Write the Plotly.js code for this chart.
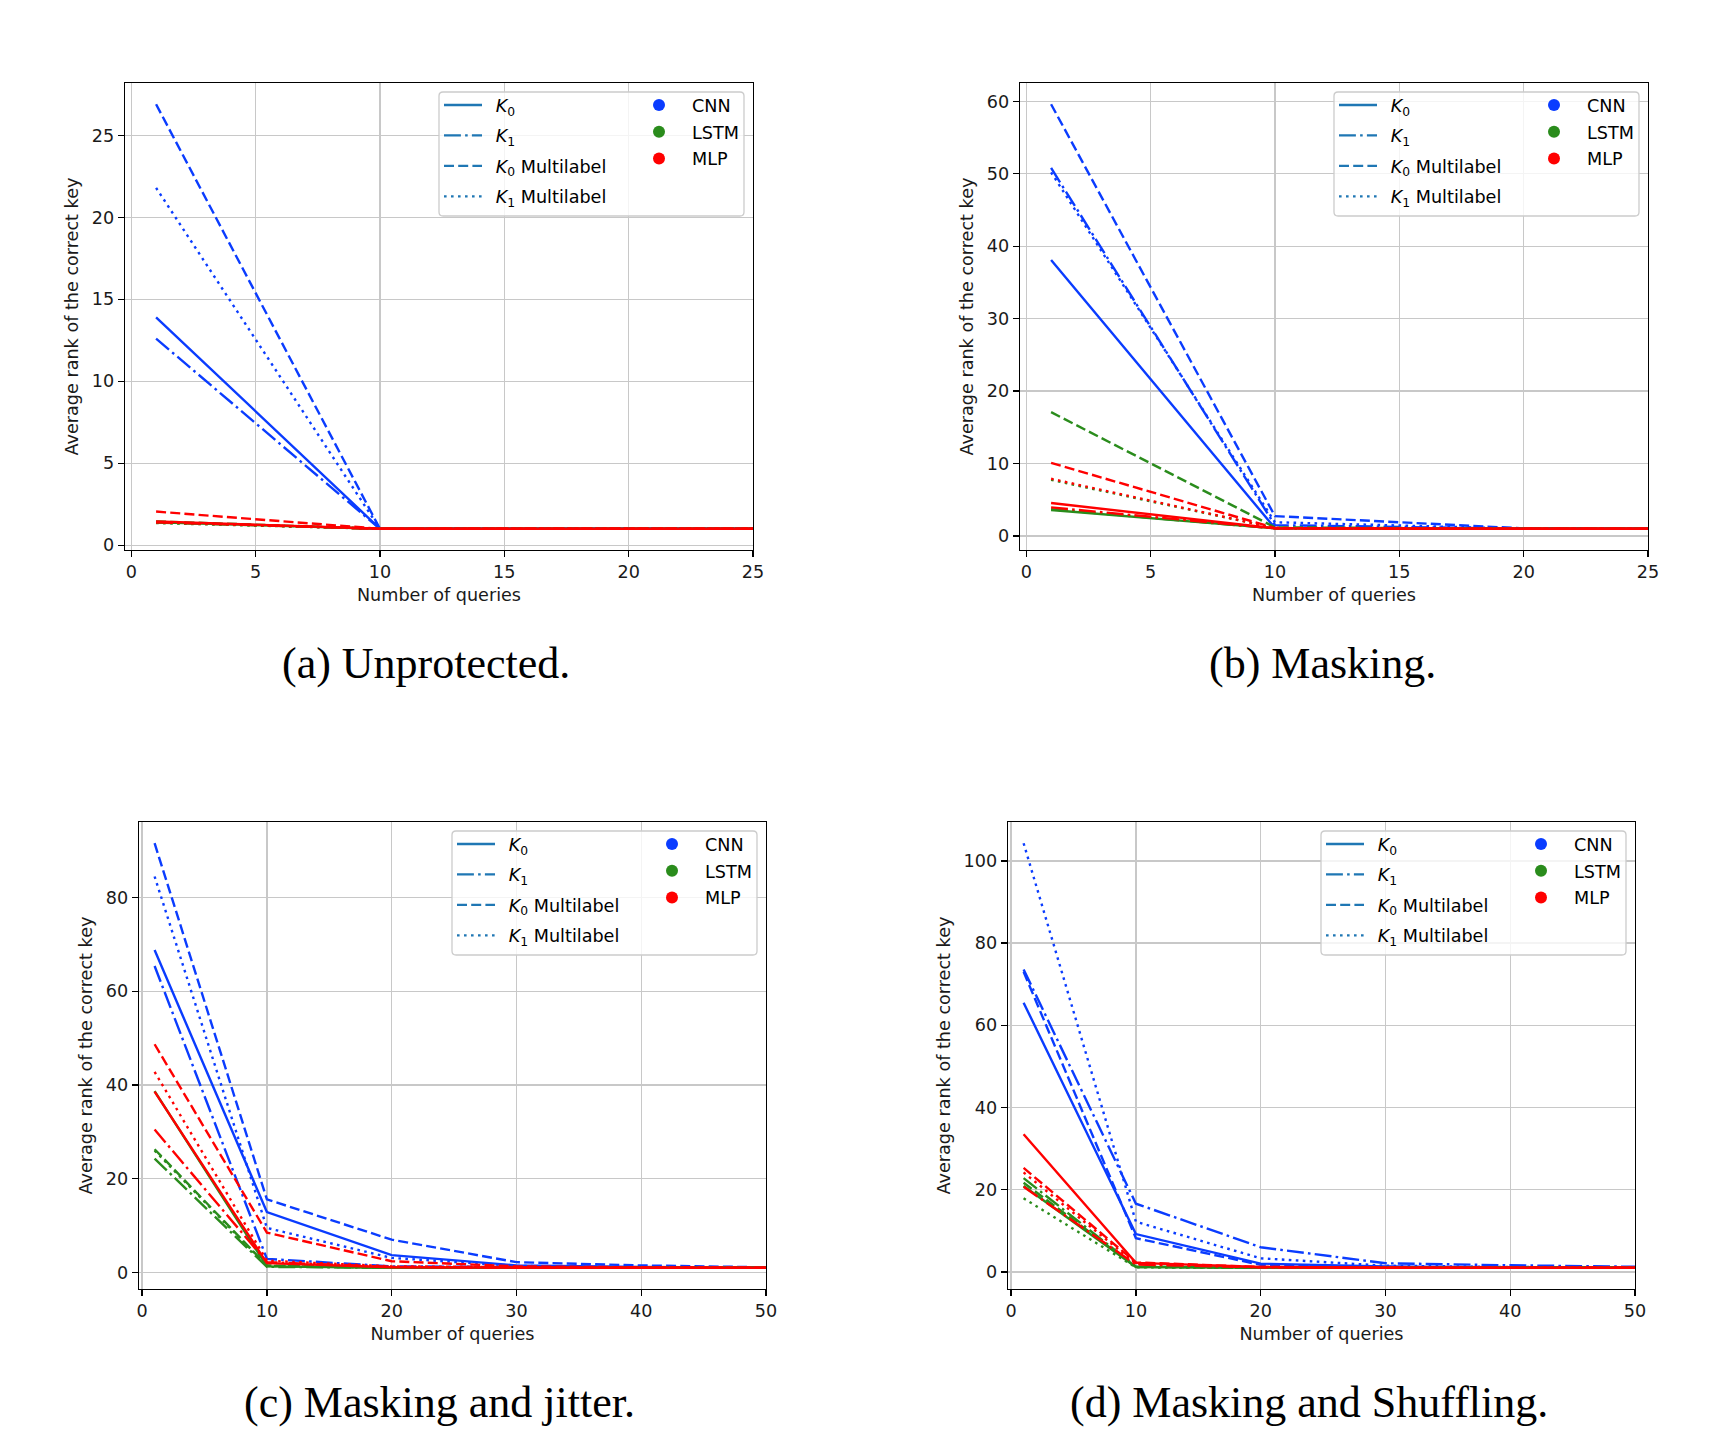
<!DOCTYPE html>
<html><head><meta charset="utf-8">
<script src="https://cdn.plot.ly/plotly-3.0.1.min.js"></script>
<style>html,body{margin:0;padding:0;background:#fff}#chart{width:1716px;height:1452px}</style>
</head><body><div id="chart"></div>
<script>
// ---------------- DATA ----------------
const queries = [1, 10, 20, 30, 40, 50];
const models = ['CNN', 'LSTM', 'MLP'];
const keyLabels = ['<i>K</i><sub>0</sub>', '<i>K</i><sub>1</sub>',
                   '<i>K</i><sub>0</sub> Multilabel', '<i>K</i><sub>1</sub> Multilabel'];
const captions = ['(a) Unprotected.', '(b) Masking.', '(c) Masking and jitter.', '(d) Masking and Shuffling.'];
const xTitle = 'Number of queries';
const yTitle = 'Average rank of the correct key';

// rows: K0, K1, K0 Multilabel, K1 Multilabel ; columns follow `queries`
const unprotectedCNN  = [[13.9, 1.0, 1.0, 1.0, 1.0, 1.0], [12.6, 1.0, 1.0, 1.0, 1.0, 1.0],
                         [26.9, 1.0, 1.0, 1.0, 1.0, 1.0], [21.8, 1.0, 1.0, 1.0, 1.0, 1.0]];
const unprotectedLSTM = [[1.40, 1.0, 1.0, 1.0, 1.0, 1.0], [1.38, 1.0, 1.0, 1.0, 1.0, 1.0],
                         [1.45, 1.0, 1.0, 1.0, 1.0, 1.0], [1.35, 1.0, 1.0, 1.0, 1.0, 1.0]];
const unprotectedMLP  = [[1.45, 1.0, 1.0, 1.0, 1.0, 1.0], [1.40, 1.0, 1.0, 1.0, 1.0, 1.0],
                         [2.05, 1.0, 1.0, 1.0, 1.0, 1.0], [1.40, 1.0, 1.0, 1.0, 1.0, 1.0]];

const maskingCNN  = [[38.1, 1.1, 1.0, 1.0, 1.0, 1.0], [50.8, 1.5, 1.0, 1.0, 1.0, 1.0],
                     [59.6, 2.75, 1.05, 1.0, 1.0, 1.0], [50.2, 1.9, 1.0, 1.0, 1.0, 1.0]];
const maskingLSTM = [[3.6, 1.05, 1.0, 1.0, 1.0, 1.0], [3.7, 1.05, 1.0, 1.0, 1.0, 1.0],
                     [17.1, 1.2, 1.0, 1.0, 1.0, 1.0], [7.75, 1.1, 1.0, 1.0, 1.0, 1.0]];
const maskingMLP  = [[4.55, 1.05, 1.0, 1.0, 1.0, 1.0], [3.95, 1.05, 1.0, 1.0, 1.0, 1.0],
                     [10.1, 1.1, 1.0, 1.0, 1.0, 1.0], [7.9, 1.1, 1.0, 1.0, 1.0, 1.0]];

const jitterCNN  = [[68.8, 12.9, 3.7, 1.5, 1.2, 1.0], [65.4, 2.9, 1.3, 1.1, 1.0, 1.0],
                    [91.6, 15.6, 7.0, 2.2, 1.5, 1.1], [84.5, 9.5, 3.1, 1.4, 1.1, 1.0]];
const jitterLSTM = [[38.7, 1.3, 1.0, 1.0, 1.0, 1.0], [24.3, 1.2, 1.0, 1.0, 1.0, 1.0],
                    [26.3, 1.5, 1.0, 1.0, 1.0, 1.0], [26.0, 1.4, 1.0, 1.0, 1.0, 1.0]];
const jitterMLP  = [[38.6, 2.0, 1.1, 1.0, 1.0, 1.0], [30.5, 2.2, 1.2, 1.0, 1.0, 1.0],
                    [48.7, 8.5, 2.4, 1.3, 1.1, 1.0], [42.8, 2.5, 1.3, 1.1, 1.0, 1.0]];

const shufflingCNN  = [[65.5, 9.2, 2.0, 1.3, 1.1, 1.0], [73.6, 16.6, 6.0, 2.1, 1.6, 1.25],
                       [73.0, 8.2, 1.7, 1.2, 1.0, 1.0], [104.3, 12.2, 3.3, 1.5, 1.2, 1.0]];
const shufflingLSTM = [[20.9, 1.2, 1.0, 1.0, 1.0, 1.0], [22.8, 1.3, 1.0, 1.0, 1.0, 1.0],
                       [21.7, 1.2, 1.0, 1.0, 1.0, 1.0], [17.9, 1.1, 1.0, 1.0, 1.0, 1.0]];
const shufflingMLP  = [[33.5, 2.2, 1.2, 1.0, 1.0, 1.0], [20.7, 1.8, 1.1, 1.0, 1.0, 1.0],
                       [25.3, 2.3, 1.2, 1.0, 1.0, 1.0], [24.2, 2.0, 1.1, 1.0, 1.0, 1.0]];

// ---------------- STYLE / LAYOUT ----------------
const W = 1716, H = 1452;
const px = v => v / W;
const py = v => 1 - v / H;
const modelColors = ['#0a3cff', '#2a8c1c', '#ff0000'];
const legendLineColor = '#1f77b4';
const keyDash = ['solid', '16.9px,4.2px,2.6px,4.2px', '10px,4.2px', '2.6px,4.4px'];
const LW = 2.4;
const FONT = 'DejaVu Sans';
const FS = 17.6;

const panels = [
  {frame: [125, 83, 753, 550], xmax: 25, xdtick: 5, ydtick: 5, data: [unprotectedCNN, unprotectedLSTM, unprotectedMLP], cap: [426, 663]},
  {frame: [1020, 83, 1648, 550], xmax: 25, xdtick: 5, ydtick: 10, data: [maskingCNN, maskingLSTM, maskingMLP], cap: [1322, 663]},
  {frame: [139, 822, 766, 1289], xmax: 50, xdtick: 10, ydtick: 20, data: [jitterCNN, jitterLSTM, jitterMLP], cap: [440, 1402]},
  {frame: [1008, 822, 1635, 1289], xmax: 50, xdtick: 10, ydtick: 20, data: [shufflingCNN, shufflingLSTM, shufflingMLP], cap: [1309, 1402]}
];

const traces = [];
const layout = {
  width: W, height: H, margin: {l: 0, r: 0, t: 0, b: 0},
  paper_bgcolor: '#fff', plot_bgcolor: '#fff',
  font: {family: FONT, size: FS, color: '#000'},
  showlegend: true, shapes: [], annotations: []
};

function roundRect(x0, y0, x1, y1, r) {
  const rx = r / W, ry = r / H;
  const X0 = px(x0), X1 = px(x1), Y0 = py(y0), Y1 = py(y1);
  return `M${X0 + rx},${Y0} L${X1 - rx},${Y0} Q${X1},${Y0} ${X1},${Y0 - ry} ` +
         `L${X1},${Y1 + ry} Q${X1},${Y1} ${X1 - rx},${Y1} L${X0 + rx},${Y1} ` +
         `Q${X0},${Y1} ${X0},${Y1 + ry} L${X0},${Y0 - ry} Q${X0},${Y0} ${X0 + rx},${Y0} Z`;
}

panels.forEach((p, i) => {
  const n = i + 1;
  const xa = 'x' + (n === 1 ? '' : n), ya = 'y' + (n === 1 ? '' : n);
  const xk = 'xaxis' + (n === 1 ? '' : n), yk = 'yaxis' + (n === 1 ? '' : n);
  const [fx0, fy0, fx1, fy1] = p.frame;

  // y range like matplotlib autoscale (5% margins)
  const all = p.data.flat(2);
  const mn = Math.min(...all), mx = Math.max(...all), pad = 0.05 * (mx - mn);

  const axCommon = {
    showline: true, mirror: true, linecolor: '#000', linewidth: 1.3,
    ticks: 'outside', ticklen: 6, tickwidth: 1.3, tickcolor: '#000',
    showgrid: true, gridcolor: '#c8c8c8', gridwidth: 1.3, zeroline: false,
    tickfont: {family: FONT, size: FS, color: '#1a1a1a'}, automargin: false
  };
  layout[xk] = Object.assign({}, axCommon, {
    domain: [px(fx0), px(fx1)], anchor: ya, range: [-0.25, p.xmax],
    tick0: 0, dtick: p.xdtick,
    title: {text: xTitle, font: {family: FONT, size: FS, color: '#1a1a1a'}, standoff: 7}
  });
  layout[yk] = Object.assign({}, axCommon, {
    domain: [py(fy1), py(fy0)], anchor: xa, range: [mn - pad, mx + pad],
    tick0: 0, dtick: p.ydtick,
    title: {text: yTitle, font: {family: FONT, size: FS, color: '#1a1a1a'}, standoff: 8}
  });

  // data lines
  p.data.forEach((modelSeries, m) => {
    modelSeries.forEach((vals, k) => {
      traces.push({
        type: 'scatter', mode: 'lines', x: queries, y: vals, xaxis: xa, yaxis: ya,
        name: models[m] + ' ' + keyLabels[k], showlegend: false, hoverinfo: 'skip',
        line: {color: modelColors[m], width: LW, dash: keyDash[k]}
      });
    });
  });

  // legend box
  const bx1 = fx1 - 9, by0 = fy0 + 9, bx0 = bx1 - 305, by1 = by0 + 124;
  layout.shapes.push({type: 'path', xref: 'paper', yref: 'paper', path: roundRect(bx0, by0, bx1, by1, 4),
    line: {color: '#cccccc', width: 1.3}, fillcolor: 'rgba(255,255,255,0.8)', layer: 'above'});

  const legA = 'legend' + (2 * i + 1 === 1 ? '' : 2 * i + 1);
  const legB = 'legend' + (2 * i + 2);
  layout[legA] = {x: px(bx0), y: py(by0 - 5), xanchor: 'left', yanchor: 'top', bgcolor: 'rgba(0,0,0,0)',
    borderwidth: 0, font: {family: FONT, size: FS, color: '#000'}, itemwidth: 38,
    traceorder: 'grouped', tracegroupgap: 4.6, itemclick: false, itemdoubleclick: false};
  layout[legB] = {x: px(bx0 + 187), y: py(by0 - 5), xanchor: 'left', yanchor: 'top', bgcolor: 'rgba(0,0,0,0)',
    borderwidth: 0, font: {family: FONT, size: FS, color: '#000'}, itemwidth: 56,
    traceorder: 'grouped', tracegroupgap: 0.9, itemclick: false, itemdoubleclick: false};

  keyLabels.forEach((lab, k) => {
    traces.push({type: 'scatter', mode: 'lines', x: [null], y: [null], xaxis: xa, yaxis: ya,
      name: '\u2002' + lab, legend: legA, legendgroup: 'p' + n + 'k' + k, showlegend: true, hoverinfo: 'skip',
      line: {color: legendLineColor, width: LW, dash: keyDash[k]}});
  });
  models.forEach((mname, m) => {
    traces.push({type: 'scatter', mode: 'markers', x: [null], y: [null], xaxis: xa, yaxis: ya,
      name: mname, legend: legB, legendgroup: 'p' + n + 'm' + m, showlegend: true, hoverinfo: 'skip',
      marker: {color: modelColors[m], size: 12}});
  });

  layout.annotations.push({xref: 'paper', yref: 'paper', x: px(p.cap[0]), y: py(p.cap[1]),
    xanchor: 'center', yanchor: 'middle', showarrow: false, text: captions[i],
    font: {family: 'Liberation Serif', size: 44, color: '#000'}});
});

Plotly.newPlot('chart', traces, layout, {staticPlot: true, displayModeBar: false});
</script>
</body></html>
